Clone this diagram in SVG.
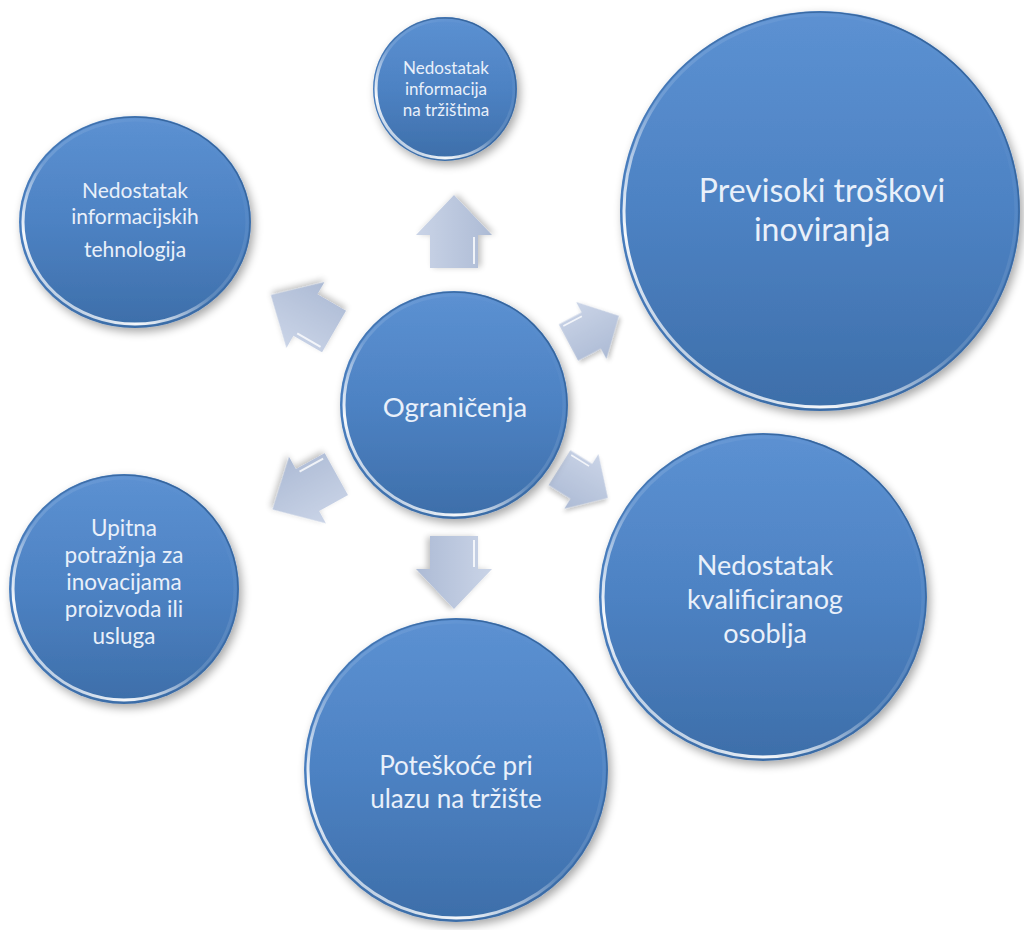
<svg xmlns="http://www.w3.org/2000/svg" width="1024" height="930" viewBox="0 0 1024 930">
<defs>
  <linearGradient id="circFill" x1="0" y1="0" x2="0" y2="1">
    <stop offset="0" stop-color="#5c91d2"/>
    <stop offset="0.5" stop-color="#4d82c3"/>
    <stop offset="1" stop-color="#3d6ea9"/>
  </linearGradient>
  <linearGradient id="rim" x1="0.85" y1="0.1" x2="0.15" y2="0.9">
    <stop offset="0" stop-color="#ffffff" stop-opacity="0"/>
    <stop offset="0.55" stop-color="#ffffff" stop-opacity="0.15"/>
    <stop offset="0.85" stop-color="#ffffff" stop-opacity="0.95"/>
    <stop offset="1" stop-color="#ffffff" stop-opacity="0.6"/>
  </linearGradient>
  <linearGradient id="edgeDark" x1="0.2" y1="0.9" x2="0.8" y2="0.1">
    <stop offset="0" stop-color="#2c5a90" stop-opacity="0"/>
    <stop offset="1" stop-color="#2c5a90" stop-opacity="0.8"/>
  </linearGradient>
  <linearGradient id="arrowFill" x1="0" y1="0" x2="0" y2="1">
    <stop offset="0" stop-color="#cad4e7"/>
    <stop offset="1" stop-color="#adbbd5"/>
  </linearGradient>
  <filter id="shadow" x="-20%" y="-20%" width="140%" height="140%">
    <feGaussianBlur in="SourceAlpha" stdDeviation="5"/>
    <feOffset dx="3" dy="4" result="b"/>
    <feComponentTransfer><feFuncA type="linear" slope="0.35"/></feComponentTransfer>
    <feMerge><feMergeNode/><feMergeNode in="SourceGraphic"/></feMerge>
  </filter>
  <filter id="ashadow" x="-30%" y="-30%" width="160%" height="160%">
    <feGaussianBlur in="SourceAlpha" stdDeviation="3"/>
    <feOffset dx="1" dy="3" result="b"/>
    <feComponentTransfer><feFuncA type="linear" slope="0.25"/></feComponentTransfer>
    <feMerge><feMergeNode/><feMergeNode in="SourceGraphic"/></feMerge>
  </filter>
  <path id="arr" d="M -37,-24 L -4,-24 L -4,-38 L 36,0 L -4,38 L -4,24 L -37,24 Z"/>
</defs>
<style>
  .c { fill: url(#circFill); filter: url(#shadow); }
  .r { fill: none; stroke: url(#rim); stroke-width: 3; }
  .d { fill: none; stroke: url(#edgeDark); stroke-width: 1.5; }
  .t { font-family: Lato, "Open Sans", "Liberation Sans", sans-serif; fill: #e9f0fa; text-anchor: middle; }
  .a { fill: url(#arrowFill); filter: url(#ashadow); }
  .h { fill: none; stroke: #ffffff; stroke-opacity: 0.8; stroke-width: 2; }
</style>
<rect width="1024" height="930" fill="#ffffff"/>

<g id="connectors">
  <g transform="translate(454,231) rotate(-90)"><use href="#arr" class="a"/><path class="h" d="M -33,20 L -6,20"/></g>
  <g transform="translate(454,573) rotate(90)"><use href="#arr" class="a"/><path class="h" d="M -33,-20 L -6,-20"/></g>
  <g transform="translate(302,313) rotate(-150)"><use href="#arr" class="a"/><path class="h" d="M -33,-20 L -6,-20"/></g>
  <g transform="translate(304,492) rotate(151)"><use href="#arr" class="a"/><path class="h" d="M -33,20 L -6,20"/></g>
  <g transform="translate(594,329) rotate(-28) scale(0.78,0.85)"><use href="#arr" class="a"/><path class="h" d="M -33,-20 L -6,-20"/></g>
  <g transform="translate(584,483) rotate(32) scale(0.78,0.85)"><use href="#arr" class="a"/><path class="h" d="M -33,-20 L -6,-20"/></g>
</g>

<g id="node-top-right">
  <circle class="c" cx="820" cy="211" r="200"/>
  <circle class="d" cx="820" cy="211" r="199"/>
  <circle class="r" cx="820" cy="211" r="196"/>
  <text class="t" font-size="32"><tspan x="822" y="202">Previsoki troškovi</tspan><tspan x="822" y="241">inoviranja</tspan></text>
</g>

<g id="node-right">
  <circle class="c" cx="763" cy="597" r="164"/>
  <circle class="d" cx="763" cy="597" r="163"/>
  <circle class="r" cx="763" cy="597" r="160"/>
  <text class="t" font-size="27"><tspan x="765" y="575">Nedostatak</tspan><tspan x="765" y="609">kvalificiranog</tspan><tspan x="765" y="643">osoblja</tspan></text>
</g>

<g id="node-bottom">
  <circle class="c" cx="456" cy="770" r="152"/>
  <circle class="d" cx="456" cy="770" r="151"/>
  <circle class="r" cx="456" cy="770" r="148"/>
  <text class="t" font-size="26"><tspan x="456" y="775">Poteškoće pri</tspan><tspan x="456" y="808">ulazu na tržište</tspan></text>
</g>

<g id="node-bottom-left">
  <circle class="c" cx="124" cy="589" r="115"/>
  <circle class="d" cx="124" cy="589" r="114"/>
  <circle class="r" cx="124" cy="589" r="111"/>
  <text class="t" font-size="22.5"><tspan x="124" y="536">Upitna</tspan><tspan x="124" y="563">potražnja za</tspan><tspan x="124" y="590">inovacijama</tspan><tspan x="124" y="617">proizvoda ili</tspan><tspan x="124" y="644">usluga</tspan></text>
</g>

<g id="node-top-left">
  <ellipse class="c" cx="135" cy="222" rx="116" ry="106"/>
  <ellipse class="d" cx="135" cy="222" rx="115" ry="105"/>
  <ellipse class="r" cx="135" cy="222" rx="112" ry="102"/>
  <text class="t" font-size="21"><tspan x="135" y="198">Nedostatak</tspan><tspan x="135" y="224">informacijskih</tspan><tspan x="135" y="257">tehnologija</tspan></text>
</g>

<g id="node-top">
  <circle class="c" cx="445" cy="89" r="72"/>
  <circle class="d" cx="445" cy="89" r="71"/>
  <circle class="r" cx="445" cy="89" r="69"/>
  <text class="t" font-size="17"><tspan x="446" y="74">Nedostatak</tspan><tspan x="446" y="95">informacija</tspan><tspan x="446" y="116">na tržištima</tspan></text>
</g>

<g id="node-center">
  <circle class="c" cx="454" cy="405" r="114"/>
  <circle class="d" cx="454" cy="405" r="113"/>
  <circle class="r" cx="454" cy="405" r="110"/>
  <text class="t" font-size="27.5" x="455" y="417">Ograničenja</text>
</g>
</svg>
